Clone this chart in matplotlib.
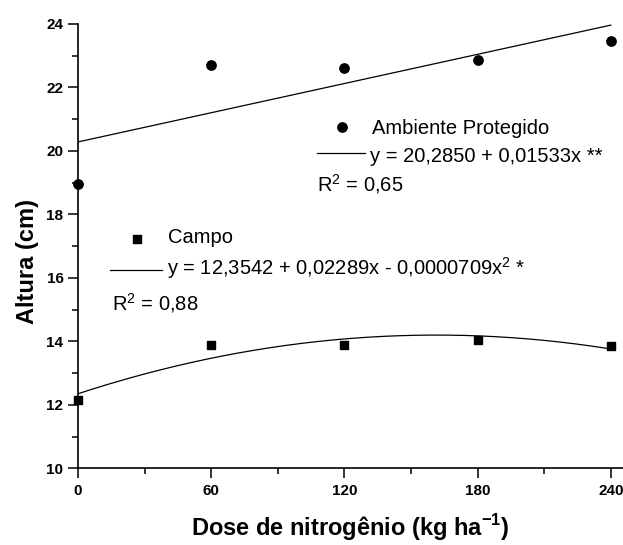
import matplotlib
matplotlib.use('Agg')
import matplotlib.pyplot as plt
import numpy as np
from matplotlib.ticker import MultipleLocator

plt.rcParams['font.family'] = ['Liberation Sans', 'DejaVu Sans']
plt.rcParams['mathtext.fontset'] = 'custom'
plt.rcParams['mathtext.rm'] = 'Liberation Sans'
plt.rcParams['mathtext.bf'] = 'Liberation Sans:bold'

# Dose de nitrogênio (kg/ha) e altura média (cm)
dose = [0, 60, 120, 180, 240]
altura_protegido = [18.95, 22.7, 22.6, 22.85, 23.45]
altura_campo = [12.15, 13.9, 13.9, 14.05, 13.85]

# Coeficientes das regressões ajustadas
coef_protegido = [20.2850, 0.01533]
coef_campo = [12.3542, 0.02289, -0.0000709]

xs = np.linspace(0, 240, 200)
fit_protegido = coef_protegido[0] + coef_protegido[1] * xs
fit_campo = coef_campo[0] + coef_campo[1] * xs + coef_campo[2] * xs ** 2

fig = plt.figure(figsize=(6.23, 5.45), dpi=100)
ax = fig.add_axes([0.1252, 0.1404, 0.8748, 0.8156])

ax.scatter(dose, altura_protegido, marker='o', s=45, color='black', zorder=3, clip_on=False)
ax.scatter(dose, altura_campo, marker='s', s=38, color='black', zorder=3, clip_on=False)
ax.plot(xs, fit_protegido, color='black', lw=0.9)
ax.plot(xs, fit_campo, color='black', lw=0.9)

ax.set_xlim(0, 245.5)
ax.set_ylim(10, 24)
ax.xaxis.set_major_locator(MultipleLocator(60))
ax.xaxis.set_minor_locator(MultipleLocator(30))
ax.yaxis.set_major_locator(MultipleLocator(2))
ax.yaxis.set_minor_locator(MultipleLocator(1))
ax.tick_params(which='major', direction='out', length=7, width=1.1, labelsize=11)
ax.tick_params(which='minor', direction='out', length=4, width=1.1)
ax.tick_params(axis='x', which='major', pad=4.5)
for lab in ax.get_xticklabels() + ax.get_yticklabels():
    lab.set_fontweight('bold')

ax.spines['top'].set_visible(False)
ax.spines['right'].set_visible(False)
ax.spines['left'].set_linewidth(1.2)
ax.spines['bottom'].set_linewidth(1.2)

ax.set_xlabel('Dose de nitrogênio (kg ha$^{\\mathbf{-1}}$)', fontsize=17, fontweight='bold', labelpad=10)
ax.set_ylabel('Altura (cm)', fontsize=17, fontweight='bold', labelpad=5)
ax.yaxis.label.set_y(0.4646)

# Legendas das equações
fs = 14.5
ax.scatter([118.9], [20.76], marker='o', s=45, color='black')
ax.text(132.5, 20.53, 'Ambiente Protegido', fontsize=fs, va='baseline')
ax.plot([107.7, 129.3], [19.94, 19.94], color='black', lw=0.9)
ax.text(131.6, 19.66, 'y = 20,2850 + 0,01533x **', fontsize=fs, va='baseline')
ax.text(107.7, 18.72, 'R$^2$ = 0,65', fontsize=fs, va='baseline')

ax.scatter([26.6], [17.23], marker='s', s=38, color='black')
ax.text(40.5, 17.09, 'Campo', fontsize=fs, va='baseline')
ax.plot([14.4, 37.8], [16.25, 16.25], color='black', lw=0.9)
ax.text(40.1, 16.09, 'y = 12,3542 + 0,02289x - 0,0000709x$^2$ *', fontsize=fs, va='baseline')
ax.text(15.3, 14.99, 'R$^2$ = 0,88', fontsize=fs, va='baseline')

fig.savefig('out.png', dpi=100)
